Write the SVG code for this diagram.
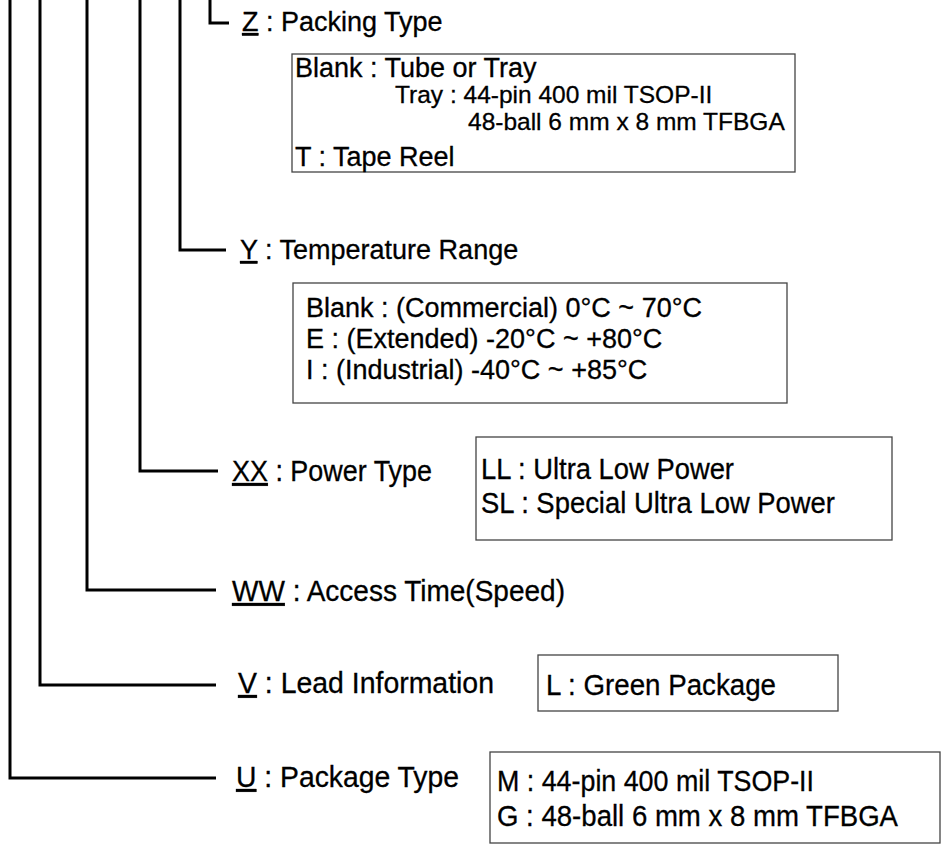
<svg xmlns="http://www.w3.org/2000/svg" width="942" height="850" viewBox="0 0 942 850">
<style>
.ln{fill:none;stroke:#000;stroke-width:3}
.bx{fill:#fff;stroke:#444;stroke-width:1.3}
text{font-family:"Liberation Sans",Arial,sans-serif;fill:#000;stroke:#000;stroke-width:0.3}
.t{font-size:27px}
.ts{font-size:24.5px}
.t2{font-size:29px}
.u{text-decoration:underline}
</style>
<g id="connectors">
<path class="ln" d="M10 0V778H216"/>
<path class="ln" d="M40 0V685H216"/>
<path class="ln" d="M87 0V590H216"/>
<path class="ln" d="M140 0V471H218"/>
<path class="ln" d="M180 0V250H226"/>
<path class="ln" d="M210 0V23H229"/>
</g>
<g id="z">
<text class="t" x="242" y="31"><tspan class="u">Z</tspan> : Packing Type</text>
<rect class="bx" x="292" y="54" width="503" height="118"/>
<text class="t" x="295" y="77">Blank : Tube or Tray</text>
<text class="ts" x="395" y="103">Tray : 44-pin 400 mil TSOP-II</text>
<text class="ts" x="468" y="130">48-ball 6 mm x 8 mm TFBGA</text>
<text class="t" x="295" y="166">T : Tape Reel</text>
</g>
<g id="y">
<text class="t" x="240" y="259"><tspan class="u">Y</tspan> : Temperature Range</text>
<rect class="bx" x="293" y="283" width="494" height="120"/>
<text class="t" x="306" y="317">Blank : (Commercial) 0°C ~ 70°C</text>
<text class="t" x="306" y="348">E : (Extended) -20°C ~ +80°C</text>
<text class="t" x="306" y="379">I : (Industrial) -40°C ~ +85°C</text>
</g>
<g id="xx">
<text class="t2" x="232" y="481" textLength="200" lengthAdjust="spacingAndGlyphs"><tspan class="u">XX</tspan> : Power Type</text>
<rect class="bx" x="476" y="437" width="416" height="103"/>
<text class="t2" x="481" y="479" textLength="253" lengthAdjust="spacingAndGlyphs">LL : Ultra Low Power</text>
<text class="t2" x="481" y="513" textLength="354" lengthAdjust="spacingAndGlyphs">SL : Special Ultra Low Power</text>
</g>
<g id="ww">
<text class="t2" x="232" y="601" textLength="333" lengthAdjust="spacingAndGlyphs"><tspan class="u">WW</tspan> : Access Time(Speed)</text>
</g>
<g id="v">
<text class="t2" x="238" y="693" textLength="256" lengthAdjust="spacingAndGlyphs"><tspan class="u">V</tspan> : Lead Information</text>
<rect class="bx" x="538" y="655" width="300" height="56"/>
<text class="t2" x="546" y="695" textLength="230" lengthAdjust="spacingAndGlyphs">L : Green Package</text>
</g>
<g id="u">
<text class="t2" x="236" y="787" textLength="223" lengthAdjust="spacingAndGlyphs"><tspan class="u">U</tspan> : Package Type</text>
<rect class="bx" x="490" y="752" width="450" height="91"/>
<text class="t2" x="497" y="791" textLength="317" lengthAdjust="spacingAndGlyphs">M : 44-pin 400 mil TSOP-II</text>
<text class="t2" x="497" y="826" textLength="401" lengthAdjust="spacingAndGlyphs">G : 48-ball 6 mm x 8 mm TFBGA</text>
</g>
</svg>
